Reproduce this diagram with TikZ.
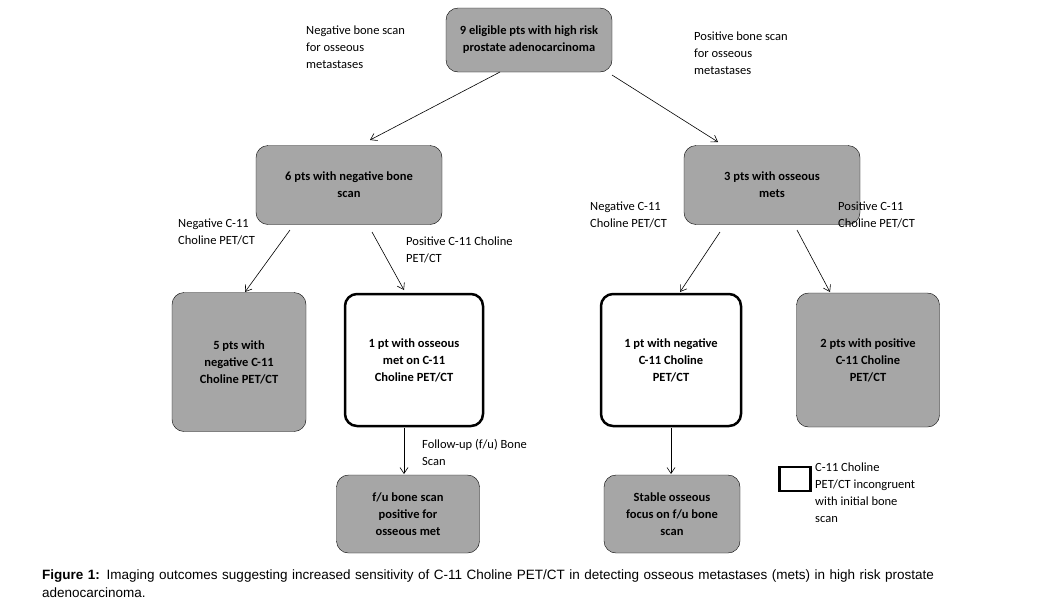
\documentclass[tikz,border=0pt]{standalone}
\usepackage{fontspec}
\setmainfont{Carlito}
\newfontfamily\capfont{Liberation Sans}
\usetikzlibrary{arrows.meta}
\definecolor{boxgray}{RGB}{166,166,166}
\begin{document}
\begin{tikzpicture}[x=1pt,y=-1pt,
  gbox/.style={draw=black,fill=boxgray,rounded corners=12pt,align=center,font=\fontsize{12.5}{17}\selectfont\bfseries,inner sep=2pt},
  wbox/.style={draw=black,line width=2.5pt,fill=white,rounded corners=12pt,align=center,font=\fontsize{12.5}{17}\selectfont\bfseries,inner sep=2pt},
  lab/.style={align=left,anchor=north west,font=\fontsize{12.5}{17}\selectfont,inner sep=0pt},
  arr/.style={-{Straight Barb[length=6pt,width=8pt]},semithick}]
\useasboundingbox (0,0) rectangle (1047,611);
\node[gbox,minimum width=166pt,minimum height=64pt] (top) at (529,40) {9 eligible pts with high risk\\prostate adenocarcinoma};
\node[gbox,minimum width=186pt,minimum height=79pt] (n6) at (349,185) {6 pts with negative bone\\scan};
\node[gbox,minimum width=176pt,minimum height=79pt] (n3) at (772,185) {3 pts with osseous\\mets};
\node[gbox,minimum width=134pt,minimum height=139pt] (n5) at (239,362) {5 pts with\\negative C-11\\Choline PET/CT};
\node[wbox,minimum width=138pt,minimum height=132pt] (n1) at (414,360) {1 pt with osseous\\met on C-11\\Choline PET/CT};
\node[wbox,minimum width=140pt,minimum height=132pt] (nn) at (671,360) {1 pt with negative\\C-11 Choline\\PET/CT};
\node[gbox,minimum width=143pt,minimum height=134pt] (n2) at (868,360) {2 pts with positive\\C-11 Choline\\PET/CT};
\node[gbox,minimum width=143pt,minimum height=78pt] (fu) at (408,514) {f/u bone scan\\positive for\\osseous met};
\node[gbox,minimum width=136pt,minimum height=78pt] (st) at (672,514) {Stable osseous\\focus on  f/u bone\\scan};
\node[draw=black,line width=2.5pt,minimum width=31pt,minimum height=24pt,inner sep=0pt] (leg) at (795,479) {};

\coordinate (a1) at (500,72); \coordinate (b1) at (370,140);
\coordinate (a2) at (612,75); \coordinate (b2) at (718,142);
\coordinate (a3) at (290,230); \coordinate (b3) at (245,292);
\coordinate (a4) at (372,232); \coordinate (b4) at (404,290);
\coordinate (a5) at (720,232); \coordinate (b5) at (680,292);
\coordinate (a6) at (797,230); \coordinate (b6) at (830,292);
\coordinate (a7) at (404,428); \coordinate (b7) at (404,474);
\coordinate (a8) at (671,428); \coordinate (b8) at (671,474);
\draw[arr] (a1) -- (b1);
\draw[arr] (a2) -- (b2);
\draw[arr] (a3) -- (b3);
\draw[arr] (a4) -- (b4);
\draw[arr] (a5) -- (b5);
\draw[arr] (a6) -- (b6);
\draw[arr] (a7) -- (b7);
\draw[arr] (a8) -- (b8);

\node[lab] (l1) at (306,26) {Negative bone scan\\for osseous\\metastases};
\node[lab] (l2) at (694,32) {Positive bone scan\\for osseous\\metastases};
\node[lab] (l3) at (178,219) {Negative C-11\\Choline PET/CT};
\node[lab] (l4) at (406,237) {Positive C-11 Choline\\PET/CT};
\node[lab] (l5) at (590,202) {Negative C-11\\Choline PET/CT};
\node[lab] (l6) at (838,202) {Positive C-11\\Choline PET/CT};
\node[lab] (l7) at (422,439) {Follow-up (f/u) Bone\\Scan};
\node[lab] (l8) at (815,463) {C-11 Choline\\PET/CT incongruent\\with initial bone\\scan};
\node[lab,font=\capfont\fontsize{13.5}{18}\selectfont,text width=1000pt] (cap) at (42,570) {\textbf{Figure 1:} Imaging outcomes suggesting increased sensitivity of C-11 Choline PET/CT in detecting osseous metastases (mets) in high risk prostate\\adenocarcinoma.};
\end{tikzpicture}
\end{document}
